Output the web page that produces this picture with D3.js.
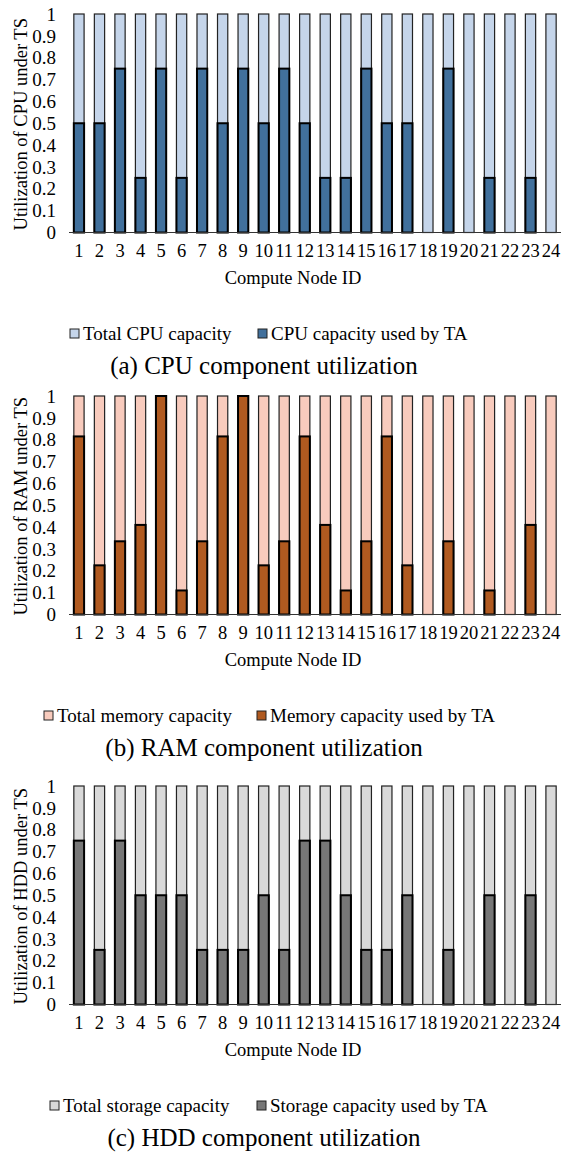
<!DOCTYPE html>
<html><head><meta charset="utf-8">
<script src="https://cdn.jsdelivr.net/npm/d3@7"></script>
<style>body{margin:0;background:#fff}svg{display:block}text{font-family:"Liberation Serif","Times New Roman",serif;fill:#000}</style>
</head><body>
<svg id="c" width="561" height="1161"></svg>
<script>
const nodeIds = d3.range(1, 25).map(String);
const yTicks = [0,0.1,0.2,0.3,0.4,0.5,0.6,0.7,0.8,0.9,1];
const cpuTotal = Array(24).fill(1);
const cpuUsed = [0.5,0.5,0.75,0.25,0.75,0.25,0.75,0.5,0.75,0.5,0.75,0.5,0.25,0.25,0.75,0.5,0.5,0,0.75,0,0.25,0,0.25,0];
const ramTotal = Array(24).fill(1);
const ramUsed = [0.815,0.225,0.335,0.41,1,0.11,0.335,0.815,1,0.225,0.335,0.815,0.41,0.11,0.335,0.815,0.225,0,0.335,0,0.11,0,0.41,0];
const hddTotal = Array(24).fill(1);
const hddUsed = [0.75,0.25,0.75,0.5,0.5,0.5,0.25,0.25,0.25,0.5,0.25,0.75,0.75,0.5,0.25,0.25,0.5,0,0.25,0,0.5,0,0.5,0];

const panels = [
  {top:14, total:cpuTotal, used:cpuUsed, light:"#c5d5ea", dark:"#41709c",
   ylabel:"Utilization of CPU  under TS", leg1:"Total CPU capacity", leg2:"CPU capacity used by TA",
   leg1x:70, leg2x:258, caption:"(a) CPU component utilization"},
  {top:396, total:ramTotal, used:ramUsed, light:"#f8cbbd", dark:"#b05a20",
   ylabel:"Utilization  of RAM under TS", leg1:"Total memory capacity", leg2:"Memory capacity used by TA",
   leg1x:44, leg2x:257, caption:"(b) RAM component utilization"},
  {top:786, total:hddTotal, used:hddUsed, light:"#d9d9d9", dark:"#777777",
   ylabel:"Utilization  of HDD under TS", leg1:"Total storage capacity", leg2:"Storage capacity used by TA",
   leg1x:50, leg2x:257, caption:"(c) HDD component utilization"}
];

const svg = d3.select("#c");
const x = d3.scaleBand().domain(nodeIds).range([68.7, 561.3]).paddingInner(0.5).paddingOuter(0.25);
const H = 218.5;
const FF = "'Liberation Serif','Times New Roman',serif";

panels.forEach(p => {
  const g = svg.append("g").attr("transform", `translate(0,${p.top})`).attr("font-family", FF);
  const y = d3.scaleLinear().domain([0,1]).range([H, 0]);
  g.selectAll(".yt").data(yTicks).join("text")
    .attr("x", 56).attr("y", d => y(d)).attr("dy", "0.35em")
    .attr("text-anchor", "end").style("font-size", "19px")
    .text(d => d === 0 || d === 1 ? String(d) : d.toFixed(1));
  g.selectAll(".tb").data(p.total).join("rect")
    .attr("x", (d,i) => x(nodeIds[i])).attr("width", x.bandwidth())
    .attr("y", d => y(d)).attr("height", d => H - y(d))
    .attr("fill", p.light).attr("stroke", "#222").attr("stroke-width", 1.2);
  g.selectAll(".ub").data(p.used).join("rect")
    .attr("x", (d,i) => x(nodeIds[i])).attr("width", x.bandwidth())
    .attr("y", d => y(d)).attr("height", d => H - y(d))
    .attr("fill", p.dark).attr("stroke", "#000").attr("stroke-width", d => d > 0 ? 2 : 0);
  g.append("line").attr("x1", 69).attr("x2", 561).attr("y1", H).attr("y2", H)
    .attr("stroke", "#333").attr("stroke-width", 1.2);
  g.selectAll(".xt").data(nodeIds).join("text")
    .attr("x", d => x(d) + x.bandwidth()/2).attr("y", H + 18).attr("dy", "0.35em")
    .attr("text-anchor", "middle").style("font-size", "18.5px").text(d => d);
  g.append("text").attr("transform", `translate(21,${H/2+1}) rotate(-90)`)
    .attr("text-anchor", "middle").attr("dy", "0.35em").style("font-size", "18.5px").text(p.ylabel);
  g.append("text").attr("x", 293).attr("y", H + 45).attr("dy", "0.35em")
    .attr("text-anchor", "middle").style("font-size", "18.5px").text("Compute Node ID");
  const ly = H + 101;
  [[p.leg1x, p.light, p.leg1],[p.leg2x, p.dark, p.leg2]].forEach(([lx, col, t]) => {
    g.append("rect").attr("x", lx).attr("y", ly - 4.5).attr("width", 9).attr("height", 9)
      .attr("fill", col).attr("stroke", "#222").attr("stroke-width", 1);
    g.append("text").attr("x", lx + 13).attr("y", ly).attr("dy", "0.35em")
      .style("font-size", "19px").text(t);
  });
  g.append("text").attr("x", 264).attr("y", H + 133).attr("dy", "0.35em")
    .attr("text-anchor", "middle").style("font-size", "25px").text(p.caption);
});
</script>
</body></html>
